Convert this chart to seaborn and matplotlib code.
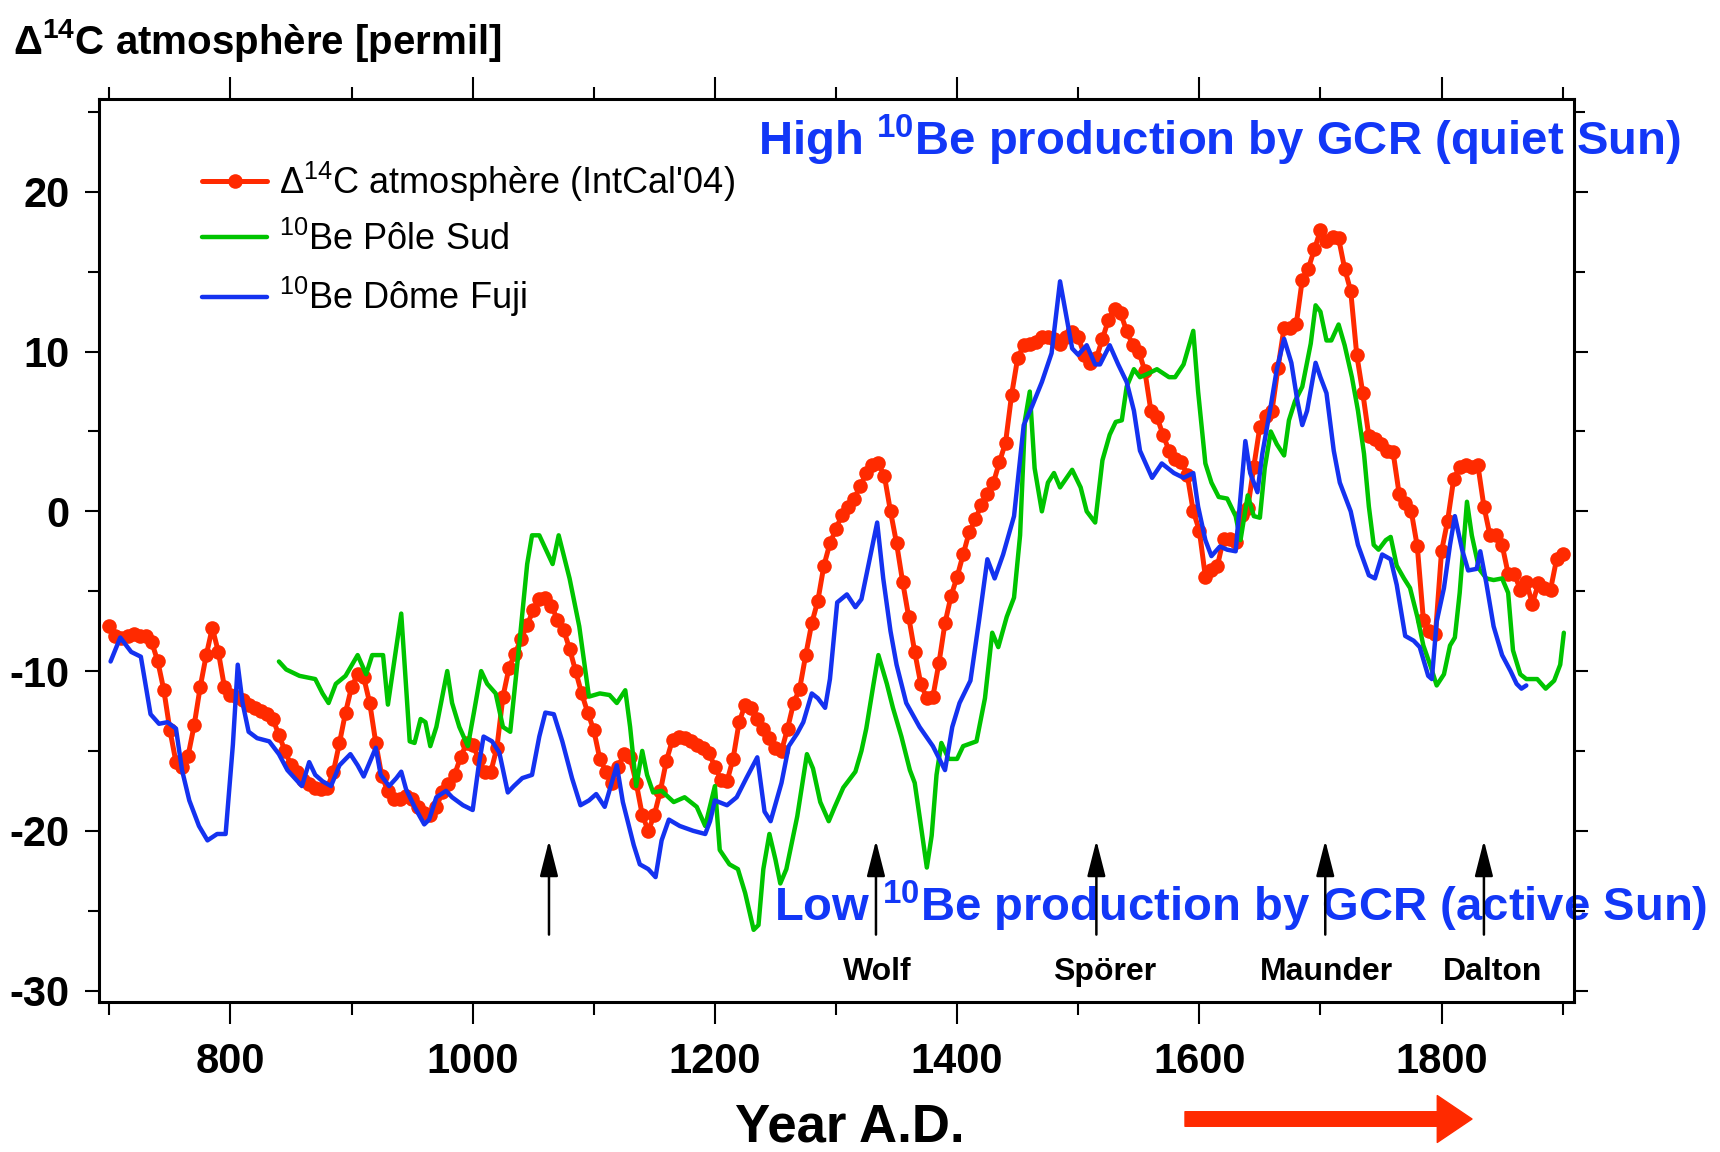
import numpy as np
import pandas as pd
import seaborn as sns
import matplotlib
matplotlib.use("Agg")
import matplotlib.pyplot as plt
from matplotlib import font_manager
from matplotlib.ticker import MultipleLocator, FuncFormatter

# ---------------------------------------------------------------- data
# Delta 14C atmosphere (IntCal'04), one value every 5 years from 700 to 1900
c14_years = list(range(700, 1905, 5))
c14_vals = [
    -7.2, -7.8, -7.9, -7.8, -7.7, -7.8, -7.8, -8.2, -9.4, -11.2,        # 700-745
    -13.7, -15.7, -16.0, -15.3, -13.4, -11.0, -9.0, -7.3, -8.8, -11.0,  # 750-795
    -11.5, -11.6, -11.8, -12.1, -12.3, -12.5, -12.7, -13.0, -14.0, -15.0,
    -15.9, -16.3, -16.8, -17.1, -17.3, -17.4, -17.3, -16.3, -14.5, -12.6,
    -11.0, -10.2, -10.4, -12.0, -14.5, -16.6, -17.5, -18.0, -18.0, -17.8,
    -18.0, -18.5, -18.9, -19.0, -18.5, -17.6, -17.1, -16.5, -15.4, -14.5,
    -14.6, -15.5, -16.3, -16.3, -14.8, -11.6, -9.8, -8.9, -8.0, -7.1,   # 1000-1045
    -6.2, -5.5, -5.4, -5.9, -6.8, -7.4, -8.6, -10.0, -11.4, -12.6,
    -13.7, -15.5, -16.3, -17.0, -16.0, -15.2, -15.4, -17.0, -19.0, -20.0,
    -19.0, -17.5, -15.6, -14.3, -14.1, -14.2, -14.4, -14.6, -14.8, -15.1,
    -16.0, -16.8, -16.9, -15.5, -13.2, -12.1, -12.3, -13.0, -13.6, -14.2,  # 1200-1245
    -14.8, -15.0, -13.6, -12.0, -11.1, -9.0, -7.0, -5.6, -3.4, -2.0,
    -1.1, -0.2, 0.3, 0.8, 1.6, 2.4, 2.9, 3.0, 2.2, 0.0,
    -2.0, -4.4, -6.6, -8.8, -10.8, -11.7, -11.6, -9.5, -7.0, -5.3,
    -4.1, -2.7, -1.3, -0.5, 0.4, 1.1, 1.8, 3.1, 4.3, 7.3,                # 1400-1445
    9.6, 10.4, 10.5, 10.6, 10.9, 10.9, 10.8, 10.5, 10.9, 11.2,
    10.9, 9.8, 9.3, 9.6, 10.8, 12.0, 12.7, 12.4, 11.3, 10.4,
    10.0, 8.8, 6.3, 5.9, 4.8, 3.8, 3.3, 3.1, 2.3, 0.0,
    -1.2, -4.1, -3.7, -3.4, -1.7, -1.7, -1.9, -0.2, 0.2, 2.8,          # 1600-1645
    5.3, 6.0, 6.3, 9.0, 11.5, 11.5, 11.7, 14.5, 15.2, 16.4,
    17.6, 16.9, 17.2, 17.1, 15.2, 13.8, 9.8, 7.4, 4.7, 4.5,
    4.2, 3.8, 3.7, 1.1, 0.5, 0.0, -2.2, -6.8, -7.5, -7.7,
    -2.5, -0.6, 2.0, 2.8, 2.9, 2.8, 2.9, 0.3, -1.5, -1.5,              # 1800-1845
    -2.1, -3.9, -3.9, -4.9, -4.4, -5.8, -4.5, -4.8, -4.9, -3.0,
    -2.7,
]

# 10Be South Pole record
be_sp_years = [
    840, 846, 857, 870, 876, 881, 887, 895, 905, 912, 917, 926, 930, 941, 948,
    952, 957, 961, 965, 970, 979, 983, 989, 996, 1001, 1007, 1012, 1019, 1025,
    1031, 1038, 1045, 1049, 1055, 1066, 1071, 1080, 1088, 1096, 1105, 1113,
    1119, 1126, 1130, 1135, 1140, 1144, 1149, 1156, 1166, 1175, 1185, 1192,
    1200, 1204, 1212, 1219, 1225, 1232, 1236, 1240, 1245, 1250, 1254, 1259,
    1268, 1276, 1281, 1287, 1294, 1299, 1306, 1316, 1321, 1325, 1331, 1335,
    1342, 1347, 1354, 1361, 1365, 1369, 1375, 1379, 1383, 1387, 1393, 1400,
    1405, 1416, 1423, 1429, 1434, 1441, 1447, 1452, 1456, 1460, 1464, 1470,
    1475, 1480, 1485, 1495, 1502, 1507, 1514, 1520, 1526, 1531, 1536, 1540,
    1546, 1551, 1557, 1565, 1575, 1580, 1587, 1595, 1599, 1605, 1610, 1616,
    1623, 1630, 1634, 1640, 1645, 1650, 1654, 1659, 1664, 1670, 1674, 1679,
    1685, 1692, 1696, 1700, 1705, 1709, 1715, 1720, 1726, 1731, 1736, 1740,
    1744, 1748, 1754, 1758, 1763, 1769, 1774, 1780, 1785, 1791, 1796, 1802,
    1807, 1811, 1815, 1821, 1825, 1831, 1837, 1843, 1850, 1855, 1859, 1865,
    1870, 1879, 1886, 1893, 1898, 1901,
]
be_sp_vals = [
    -9.4, -9.9, -10.3, -10.5, -11.4, -12.0, -10.8, -10.3, -9.0, -10.2, -9.0,
    -9.0, -12.1, -6.4, -14.4, -14.5, -13.0, -13.2, -14.7, -13.5, -10.0, -12.0,
    -13.5, -14.7, -12.6, -10.0, -10.8, -11.4, -13.5, -13.8, -8.7, -3.3, -1.5,
    -1.5, -3.3, -1.5, -4.2, -7.2, -11.6, -11.4, -11.5, -12.0, -11.2, -13.5,
    -17.2, -15.0, -16.5, -17.6, -17.5, -18.2, -17.9, -18.5, -19.7, -17.2,
    -21.2, -22.1, -22.4, -23.9, -26.2, -25.9, -22.4, -20.2, -21.8, -23.3,
    -22.4, -19.1, -15.2, -16.1, -18.2, -19.4, -18.5, -17.3, -16.3, -15.0,
    -13.6, -10.8, -9.0, -10.8, -12.3, -14.1, -16.2, -17.0, -19.1, -22.3,
    -20.3, -16.5, -14.5, -15.5, -15.5, -14.7, -14.4, -11.7, -7.6, -8.5, -6.6,
    -5.4, -1.5, 5.7, 7.5, 2.7, 0.0, 1.8, 2.4, 1.5, 2.6, 1.5, 0.0, -0.7, 3.2,
    4.8, 5.6, 5.7, 7.8, 8.9, 8.4, 8.6, 8.9, 8.4, 8.4, 9.2, 11.3, 7.5, 3.0,
    1.8, 0.9, 0.8, -0.3, -1.8, 1.0, -0.3, -0.4, 2.7, 5.0, 4.2, 3.5, 5.7, 6.9,
    7.8, 10.5, 12.9, 12.5, 10.7, 10.7, 11.7, 10.4, 8.4, 6.3, 3.6, 0.3, -2.1,
    -2.4, -1.8, -1.6, -3.4, -4.2, -4.8, -6.6, -8.4, -9.7, -10.9, -10.2, -8.4,
    -7.9, -5.1, 0.6, -1.5, -3.6, -4.2, -4.3, -4.2, -5.1, -8.7, -10.2, -10.5,
    -10.5, -11.1, -10.6, -9.6, -7.6,
]

# 10Be Dome Fuji record
be_df_years = [
    701, 709, 718, 726, 734, 741, 748, 755, 760, 766, 774, 781, 789, 796, 802,
    806, 810, 815, 822, 832, 840, 847, 853, 859, 865, 870, 876, 883, 890, 899,
    905, 910, 915, 920, 924, 931, 937, 941, 945, 952, 960, 964, 970, 978, 983,
    992, 1000, 1005, 1009, 1016, 1022, 1029, 1034, 1041, 1049, 1055, 1060,
    1067, 1074, 1082, 1089, 1096, 1102, 1109, 1119, 1124, 1133, 1138, 1145,
    1151, 1156, 1162, 1171, 1182, 1192, 1196, 1200, 1210, 1218, 1226, 1235,
    1241, 1246, 1255, 1261, 1268, 1273, 1280, 1285, 1291, 1295, 1301, 1309,
    1316, 1321, 1327, 1334, 1339, 1345, 1350, 1358, 1369, 1380, 1390, 1396,
    1402, 1411, 1418, 1425, 1431, 1438, 1447, 1455, 1462, 1470, 1478, 1485,
    1495, 1500, 1507, 1514, 1518, 1526, 1533, 1540, 1546, 1551, 1561, 1569,
    1579, 1587, 1595, 1599, 1605, 1610, 1617, 1623, 1630, 1634, 1638, 1642,
    1648, 1652, 1659, 1664, 1670, 1676, 1681, 1685, 1689, 1696, 1700, 1705,
    1711, 1716, 1725, 1731, 1740, 1745, 1751, 1758, 1763, 1770, 1777, 1782,
    1789, 1792, 1796, 1802, 1807, 1811, 1817, 1822, 1829, 1832, 1837, 1843,
    1850, 1857, 1862, 1866, 1870,
]
be_df_vals = [
    -9.4, -7.9, -8.8, -9.1, -12.7, -13.3, -13.2, -13.6, -16.2, -18.1, -19.7,
    -20.6, -20.2, -20.2, -14.6, -9.6, -12.0, -13.8, -14.2, -14.4, -15.2, -16.2,
    -16.7, -17.2, -15.7, -16.5, -16.9, -17.2, -15.9, -15.2, -15.9, -16.6,
    -15.7, -14.8, -16.5, -17.2, -16.7, -16.3, -17.4, -18.5, -19.6, -19.3,
    -17.9, -17.5, -17.9, -18.4, -18.7, -15.9, -14.1, -14.4, -15.1, -17.6,
    -17.2, -16.7, -16.5, -14.1, -12.6, -12.7, -14.4, -16.7, -18.4, -18.1,
    -17.7, -18.5, -15.9, -18.2, -20.9, -22.1, -22.4, -22.9, -20.6, -19.3,
    -19.7, -20.0, -20.2, -19.4, -18.1, -18.4, -17.9, -16.7, -15.4, -18.8,
    -19.4, -17.0, -14.7, -13.9, -13.2, -11.4, -11.7, -12.3, -10.5, -5.7, -5.2,
    -6.0, -5.5, -3.3, -0.7, -4.2, -7.5, -9.6, -12.0, -13.5, -14.7, -16.2,
    -13.5, -12.0, -10.6, -6.9, -3.0, -4.2, -2.7, -0.3, 5.4, 6.6, 8.1, 9.9,
    14.4, 10.2, 9.8, 10.4, 9.2, 9.2, 10.4, 9.2, 8.1, 6.3, 3.8, 2.1, 3.0, 2.4,
    2.1, 2.4, 0.3, -1.8, -2.8, -2.2, -2.4, -2.5, 0.9, 4.4, 2.4, 1.2, 3.6, 6.6,
    8.9, 10.8, 9.3, 6.9, 5.4, 6.3, 9.3, 8.4, 7.4, 3.8, 1.8, 0.0, -2.1, -4.0,
    -4.2, -2.7, -3.0, -4.6, -7.8, -8.1, -8.5, -10.3, -10.5, -6.9, -4.8, -2.1,
    -0.3, -2.4, -3.7, -3.6, -2.5, -4.5, -7.2, -9.0, -10.0, -10.8, -11.1, -10.9,
]

# solar minima
minima_names = ["Wolf", "Spörer", "Maunder", "Dalton"]
minima_label_years = [1334, 1522, 1705, 1842]
arrow_years = [1063, 1333, 1515, 1704, 1835]

x_tick_values = [800, 1000, 1200, 1400, 1600, 1800]
y_tick_values = [-30, -20, -10, 0, 10, 20]

RED = "#FF2A00"
GREEN = "#00C400"
BLUE = "#1432F0"
TEXT_BLUE = "#1237F7"

# ---------------------------------------------------------------- style
sns.set_theme(style="ticks")


def has_font(name):
    try:
        font_manager.findfont(font_manager.FontProperties(family=name),
                              fallback_to_default=False)
        return True
    except Exception:
        return False


plt.rcParams["font.family"] = ["Liberation Sans", "DejaVu Sans"]
plt.rcParams["text.color"] = "black"
plt.rcParams["mathtext.fontset"] = "custom"
plt.rcParams["mathtext.rm"] = "Liberation Sans"
plt.rcParams["mathtext.it"] = "Liberation Sans:italic"
plt.rcParams["mathtext.bf"] = "Liberation Sans:bold"
NARROW = "Liberation Sans Narrow" if has_font("Liberation Sans Narrow") else None

fig = plt.figure(figsize=(17.2, 11.52), dpi=100)
ax = fig.add_axes([0.0576, 0.1302, 0.8576, 0.7839])
ax.set_facecolor("white")

df_c14 = pd.DataFrame({"year": c14_years, "value": c14_vals})
df_sp = pd.DataFrame({"year": be_sp_years, "value": be_sp_vals})
df_df = pd.DataFrame({"year": be_df_years, "value": be_df_vals})

sns.lineplot(data=df_c14, x="year", y="value", ax=ax, estimator=None,
             color=RED, lw=3.6, marker="o", markersize=10.5,
             markeredgewidth=0, label="Δ$^{14}$C atmosphère (IntCal'04)",
             zorder=3)
sns.lineplot(data=df_sp, x="year", y="value", ax=ax, estimator=None,
             color=GREEN, lw=3.2, label="$^{10}$Be Pôle Sud", zorder=3.1)
sns.lineplot(data=df_df, x="year", y="value", ax=ax, estimator=None,
             color=BLUE, lw=3.2, label="$^{10}$Be Dôme Fuji", zorder=3.2)

# ---------------------------------------------------------------- axes
ax.set_xlim(691.5, 1909.5)
ax.set_ylim(-30.72, 25.82)
ax.set_xlabel("")
ax.set_ylabel("")
ax.set_xticks(x_tick_values)
ax.xaxis.set_minor_locator(MultipleLocator(100))
ax.set_yticks(y_tick_values)
ax.yaxis.set_minor_locator(MultipleLocator(5))
ax.xaxis.set_major_formatter(FuncFormatter(lambda v, p: f"{int(round(v))}"))
ax.yaxis.set_major_formatter(FuncFormatter(lambda v, p: f"{int(round(v))}"))

ax.tick_params(axis="x", which="both", direction="out", top=True,
               bottom=True, labeltop=False, color="black", width=1.5)
ax.tick_params(axis="x", which="major", length=16, pad=13)
ax.tick_params(axis="x", which="minor", length=9)
ax.tick_params(axis="y", which="both", direction="out", left=True,
               right=True, labelright=False, color="black", width=1.5)
ax.tick_params(axis="y", which="major", length=10, pad=11)
ax.tick_params(axis="y", which="minor", length=8)
for lab in ax.get_xticklabels() + ax.get_yticklabels():
    lab.set_fontsize(30)
    lab.set_fontweight("bold")
    lab.set_color("black")
for sp in ax.spines.values():
    sp.set_visible(True)
    sp.set_linewidth(2.2)
    sp.set_color("black")
    sp.set_zorder(5)

# ---------------------------------------------------------------- legend
handles, labels = ax.get_legend_handles_labels()
leg = ax.legend(handles, labels, loc="upper left", numpoints=1,
                bbox_to_anchor=(0.070, 0.933), frameon=False, fontsize=26,
                handlelength=1.8, handletextpad=0.33, labelspacing=0.49,
                borderpad=0, borderaxespad=0)
for t in leg.get_texts():
    t.set_color("black")

# ---------------------------------------------------------------- annotations
ax.text(1236, 22.3, "High $^{\\mathbf{10}}$Be production by GCR (quiet Sun)",
        color=TEXT_BLUE, fontsize=34, fontweight="bold", ha="left",
        va="baseline", clip_on=False, zorder=2)
ax.text(1249, -25.7, "Low $^{\\mathbf{10}}$Be production by GCR (active Sun)",
        color=TEXT_BLUE, fontsize=34, fontweight="bold", ha="left",
        va="baseline", clip_on=False, zorder=2)

for yr in arrow_years:
    ax.annotate("", xy=(yr, -20.6), xytext=(yr, -26.5),
                arrowprops=dict(arrowstyle="-|>,head_length=1.1,head_width=0.28",
                                color="black", lw=1.8, mutation_scale=20,
                                shrinkA=0, shrinkB=0), zorder=6)

for name, yr in zip(minima_names, minima_label_years):
    ax.text(yr, -29.35, name, ha="center", va="baseline", fontsize=23,
            fontweight="bold", color="black")

title_kw = dict(fontsize=32, family=NARROW) if NARROW else dict(fontsize=29)
fig.text(0.0076, 0.953, "Δ$^{\\mathbf{14}}$C atmosphère [permil]",
         fontweight="bold", ha="left", va="baseline", color="black",
         **title_kw)
fig.text(0.494, 0.0217, "Year A.D.", fontsize=38, fontweight="bold",
         ha="center", va="center", color="black")

# time direction arrow below the axis
ax.annotate("", xy=(1472, 33), xytext=(1185, 33), xycoords="figure pixels",
            textcoords="figure pixels", annotation_clip=False,
            arrowprops=dict(arrowstyle="simple,head_length=1.0,head_width=1.35,tail_width=0.42",
                            color=RED, mutation_scale=25, shrinkA=0,
                            shrinkB=0))

fig.savefig("out.png", dpi=100, facecolor="white")
